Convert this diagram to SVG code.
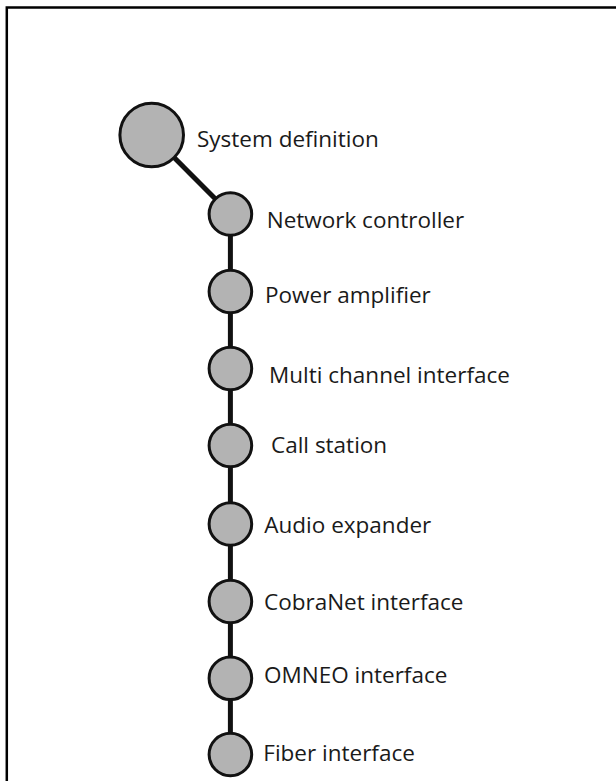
<svg xmlns="http://www.w3.org/2000/svg" width="616" height="781" viewBox="0 0 616 781">
<style>
.node circle{fill:#b3b3b3;stroke:#111;stroke-width:3}
.node text{font-family:"Open Sans","Liberation Sans",sans-serif;font-size:22.5px;fill:#1a1a1a}
.conn{stroke:#111;stroke-width:5;fill:none}
</style>
<rect width="616" height="781" fill="#fff"/>
<path d="M6.8,781 V7.5 H616" fill="none" stroke="#000" stroke-width="2.5"/>
<g id="connectors">
<line class="conn" x1="151.7" y1="135" x2="230.4" y2="214"/>
<line class="conn" x1="230.4" y1="214" x2="230.4" y2="754.5"/>
</g>
<g id="system-definition" class="node"><circle cx="151.7" cy="135" r="31.8"/><text x="197" y="146.7">System definition</text></g>
<g id="network-controller" class="node"><circle cx="230.4" cy="214" r="21.3"/><text x="266.7" y="227.7">Network controller</text></g>
<g id="power-amplifier" class="node"><circle cx="230.4" cy="291.5" r="21.3"/><text x="265" y="303.3">Power amplifier</text></g>
<g id="multi-channel-interface" class="node"><circle cx="230.4" cy="368.5" r="21.3"/><text x="269" y="382.7">Multi channel interface</text></g>
<g id="call-station" class="node"><circle cx="230.4" cy="445.5" r="21.3"/><text x="271" y="452.7">Call station</text></g>
<g id="audio-expander" class="node"><circle cx="230.4" cy="524" r="21.3"/><text x="264.3" y="533.3">Audio expander</text></g>
<g id="cobranet-interface" class="node"><circle cx="230.4" cy="601.5" r="21.3"/><text x="264" y="610">CobraNet interface</text></g>
<g id="omneo-interface" class="node"><circle cx="230.4" cy="678.3" r="21.3"/><text x="264" y="683.3">OMNEO interface</text></g>
<g id="fiber-interface" class="node"><circle cx="230.4" cy="754.5" r="21.3"/><text x="263.3" y="760.7">Fiber interface</text></g>
</svg>
